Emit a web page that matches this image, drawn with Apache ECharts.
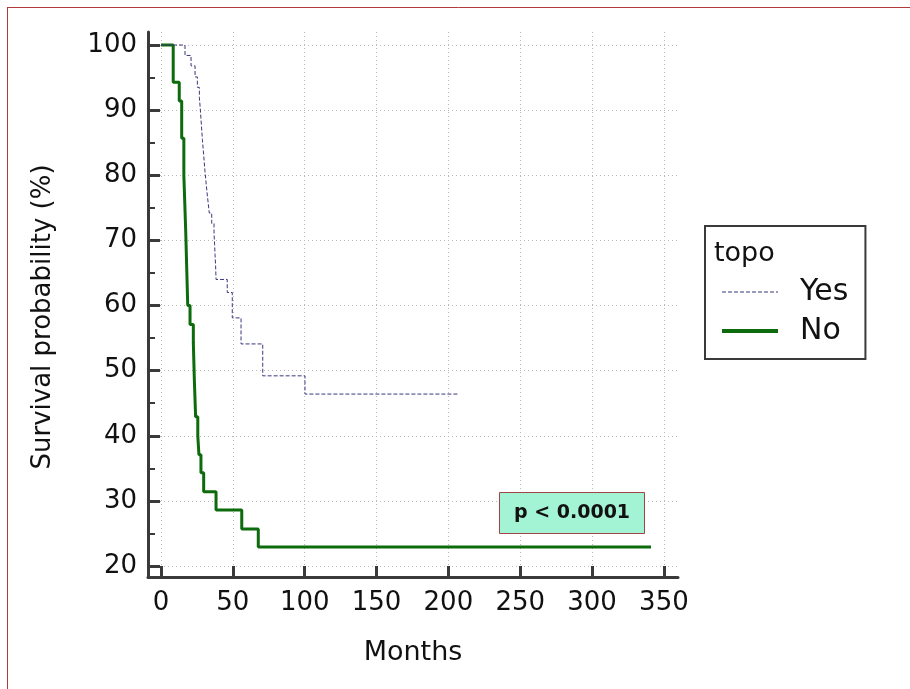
<!DOCTYPE html>
<html>
<head>
<meta charset="utf-8">
<title>Kaplan-Meier survival by topo</title>
<script src="https://cdn.jsdelivr.net/npm/echarts@6/dist/echarts.min.js"></script>
<style>
  html, body { margin: 0; padding: 0; background: #ffffff; }
  #chart { width: 910px; height: 689px; }
</style>
</head>
<body>
<div id="chart"></div>
<script>
// Kaplan-Meier estimates: [time of event (months), survival after event (%)]
const yesTimes  = [0, 16.7, 20.9, 23.7, 25.3, 26.7, 27.3, 27.8, 28.3, 28.8, 29.4, 30.0, 30.6, 31.3, 32.0, 32.8, 33.6, 35.3, 36.9, 37.3, 37.6, 38.0, 38.3, 46.1, 49.6, 55.7, 70.8, 100.2, 206.9];
const yesValues = [100, 98.4, 96.8, 95.1, 93.5, 91.9, 90.3, 88.7, 87.1, 85.5, 83.9, 82.3, 80.6, 79.0, 77.4, 75.8, 74.2, 72.6, 71.0, 69.4, 67.8, 66.1, 64.0, 62.0, 58.1, 54.1, 49.2, 46.4, 46.4];

const noTimes  = [0, 8.5, 12.7, 14.4, 15.9, 17.2, 17.9, 18.6, 20.2, 22.5, 23.2, 24.1, 25.6, 26.4, 27.8, 29.7, 38.3, 56.2, 67.7, 341];
const noValues = [100, 94.3, 91.4, 85.7, 80.0, 71.4, 65.7, 60.0, 57.1, 54.3, 48.6, 42.9, 40.0, 37.1, 34.3, 31.4, 28.6, 25.7, 22.9, 22.9];

const groupNames = ['Yes', 'No'];
const legendTitle = 'topo';
const xTicks = [0, 50, 100, 150, 200, 250, 300, 350];
const yTicks = [20, 30, 40, 50, 60, 70, 80, 90, 100];
const yMinorTicks = [25, 35, 45, 55, 65, 75, 85, 95];
const pText = 'p < 0.0001';
const xTitle = 'Months';
const yTitle = 'Survival probability (%)';

// Axis frames are offset from the data range, as in the classic survival plot style
const X_MIN = -9.05, X_MAX = 359.8;
const Y_MIN = 18.31, Y_MAX = 102.0;

const FONT = 'DejaVu Sans';
const AXIS_COLOR = '#3a3a3a';
const TEXT_COLOR = '#111111';
const YES_COLOR = '#38387c';
const NO_COLOR = '#0d6b0d';

function pairs(xs, ys) { return xs.map((x, i) => [x, ys[i]]); }

const chart = echarts.init(document.getElementById('chart'), null, { renderer: 'canvas' });

chart.setOption({
  backgroundColor: '#ffffff',
  animation: false,
  grid: { left: 148, top: 32, width: 530, height: 545, containLabel: false },
  title: {
    text: pText,
    left: 499, top: 492,
    padding: [10, 15],
    backgroundColor: '#a2f4d4',
    borderColor: '#a04545',
    borderWidth: 1,
    textStyle: { fontFamily: FONT, fontWeight: 'bold', fontSize: 19, lineHeight: 22, color: TEXT_COLOR }
  },
  legend: {
    orient: 'vertical',
    left: 705, top: 226,
    padding: [51, 17, 13, 15],
    itemGap: 9,
    itemWidth: 56,
    itemHeight: 14,
    borderColor: AXIS_COLOR,
    borderWidth: 2,
    data: [
      { name: groupNames[0], lineStyle: { width: 1.2 } },
      { name: groupNames[1], lineStyle: { width: 4 } }
    ],
    selectedMode: false,
    itemStyle: { opacity: 0 },
    textStyle: { fontFamily: FONT, fontSize: 30, lineHeight: 30, color: TEXT_COLOR, padding: [0, 0, 0, 17] }
  },
  xAxis: {
    type: 'value',
    min: X_MIN, max: X_MAX,
    axisLine: { show: true, onZero: false, lineStyle: { color: AXIS_COLOR, width: 3 } },
    axisTick: { show: true, inside: true, length: 11, customValues: xTicks, lineStyle: { color: AXIS_COLOR, width: 3 } },
    axisLabel: { customValues: xTicks, fontFamily: FONT, fontSize: 26, color: TEXT_COLOR, margin: 13 },
    splitLine: { show: true, lineStyle: { color: '#b8b8b8', width: 1, type: [1, 3] } },
    name: xTitle,
    nameLocation: 'middle',
    nameGap: 62,
    nameTextStyle: { fontFamily: FONT, fontSize: 27, color: TEXT_COLOR }
  },
  yAxis: [
    {
      type: 'value',
      position: 'left',
      min: Y_MIN, max: Y_MAX,
      axisLine: { show: true, onZero: false, lineStyle: { color: AXIS_COLOR, width: 3 } },
      axisTick: { show: true, inside: true, length: 12, customValues: yTicks, lineStyle: { color: AXIS_COLOR, width: 3 } },
      axisLabel: { customValues: yTicks, fontFamily: FONT, fontSize: 26, color: TEXT_COLOR, margin: 11 },
      splitLine: { show: true, lineStyle: { color: '#b8b8b8', width: 1, type: [1, 3] } }
    },
    {
      // half-step minor ticks on the same left axis
      type: 'value',
      position: 'left',
      offset: 0,
      min: Y_MIN, max: Y_MAX,
      axisLine: { show: false, onZero: false },
      axisTick: { show: true, inside: true, length: 7, customValues: yMinorTicks, lineStyle: { color: AXIS_COLOR, width: 2 } },
      axisLabel: { show: false },
      splitLine: { show: false }
    }
  ],
  graphic: [
    { type: 'line', silent: true, shape: { x1: 7, y1: 7.5, x2: 910, y2: 7.5 }, style: { stroke: '#b03a3a', lineWidth: 1 } },
    { type: 'line', silent: true, shape: { x1: 7.5, y1: 7, x2: 7.5, y2: 689 }, style: { stroke: '#b03a3a', lineWidth: 1 } },
    {
      type: 'text', silent: true, x: 43, y: 317, rotation: Math.PI / 2,
      style: { text: yTitle, fontFamily: FONT, fontSize: 26, fill: TEXT_COLOR, textAlign: 'center', textVerticalAlign: 'middle' }
    },
    {
      type: 'text', silent: true, x: 714, y: 254, z: 100,
      style: { text: legendTitle, fontFamily: FONT, fontSize: 27, fill: TEXT_COLOR, textAlign: 'left', textVerticalAlign: 'middle' }
    }
  ],
  series: [
    {
      name: groupNames[0],
      type: 'line',
      step: 'end',
      symbol: 'none',
      data: pairs(yesTimes, yesValues),
      lineStyle: { color: YES_COLOR, width: 1, type: [4, 2] },
      itemStyle: { color: YES_COLOR },
      z: 3
    },
    {
      name: groupNames[1],
      type: 'line',
      step: 'end',
      symbol: 'none',
      data: pairs(noTimes, noValues),
      lineStyle: { color: NO_COLOR, width: 3, type: 'solid' },
      itemStyle: { color: NO_COLOR },
      z: 2
    }
  ]
});
</script>
</body>
</html>
